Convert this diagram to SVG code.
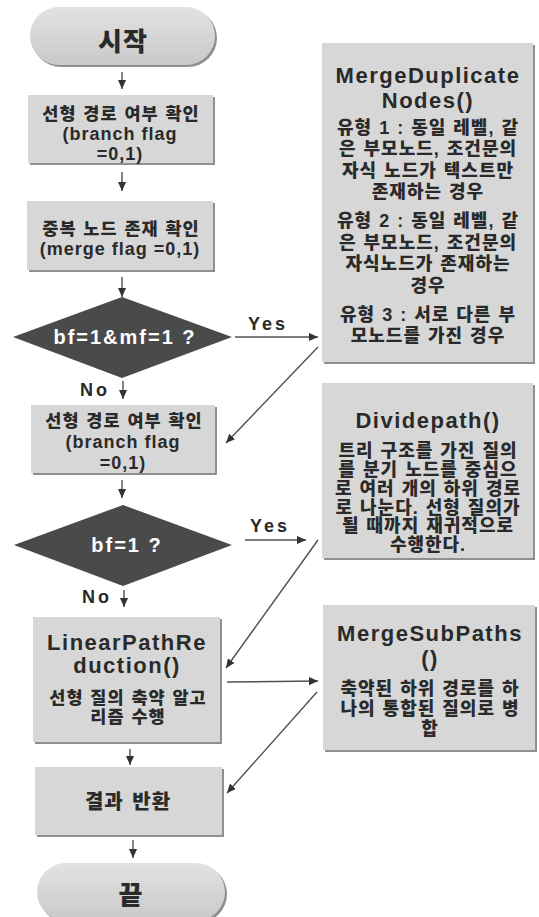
<svg xmlns="http://www.w3.org/2000/svg" width="539" height="917" viewBox="0 0 539 917">
  <defs>
    <style>
      .box { fill: #d7d7d7; }
      .shadow { fill: #8f8f8f; }
      .term { fill: url(#termFill); }
      .dia { fill: #4a4a4a; }
      .edge { stroke: #505050; stroke-width: 1.4; fill: none; marker-end: url(#ah); }
      .t { font-family: "Liberation Sans", "Noto Sans CJK KR", sans-serif; font-weight: bold; fill: #2a2a2a; text-anchor: middle; }
      .ko { font-size: 17.5px; font-weight: 900; letter-spacing: 1px; word-spacing: 1px; }
      .kor { font-size: 18px; font-weight: 900; letter-spacing: 1px; word-spacing: 1px; }
      .en { font-size: 18px; letter-spacing: 1px; }
      .title { font-size: 22px; letter-spacing: 1.5px; }
      .big { font-size: 26px; font-weight: 900; letter-spacing: 1px; }
      .res { font-size: 20px; font-weight: 900; letter-spacing: 1px; word-spacing: 2px; }
      .lbl { font-size: 18px; letter-spacing: 3px; text-anchor: start; }
      .dt { font-size: 20px; letter-spacing: 2px; fill: #ffffff; }
    </style>
    <linearGradient id="termFill" x1="0" y1="0" x2="0" y2="1">
      <stop offset="0" stop-color="#e2e2e2"/>
      <stop offset="1" stop-color="#c9c9c9"/>
    </linearGradient>
    <marker id="ah" viewBox="0 0 10 10" refX="10" refY="5" markerWidth="9" markerHeight="9" markerUnits="userSpaceOnUse" orient="auto">
      <path d="M0,0.5 L10,5 L0,9.5 z" fill="#333333"/>
    </marker>
  </defs>

  <!-- flow connectors and branch labels -->
  <g id="connectors">
    <line class="edge" x1="122" y1="72" x2="122" y2="89"/>
    <line class="edge" x1="122" y1="172" x2="122" y2="191"/>
    <line class="edge" x1="122" y1="277" x2="122" y2="297"/>
    <line class="edge" x1="123" y1="381" x2="123" y2="399"/>
    <line class="edge" x1="122" y1="480" x2="122" y2="498"/>
    <line class="edge" x1="124" y1="590" x2="124" y2="607"/>
    <line class="edge" x1="130" y1="749" x2="130" y2="765"/>
    <line class="edge" x1="133" y1="840" x2="133" y2="858"/>

    <line class="edge" x1="235" y1="337" x2="318" y2="337"/>
    <line class="edge" x1="245" y1="540" x2="306" y2="540"/>
    <line class="edge" x1="318" y1="347" x2="226" y2="443"/>
    <line class="edge" x1="318" y1="540" x2="226" y2="668"/>
    <line class="edge" x1="227" y1="682" x2="318" y2="681"/>
    <line class="edge" x1="317" y1="692" x2="227" y2="793"/>

    <text class="t lbl" x="248" y="330">Yes</text>
    <text class="t lbl" x="250" y="532">Yes</text>
    <text class="t lbl" x="80" y="396">No</text>
    <text class="t lbl" x="82" y="603">No</text>
  </g>

  <g id="start">
    <rect class="shadow" x="32" y="9" width="185" height="58" rx="29"/>
    <rect class="term" x="30" y="7" width="185" height="58" rx="29"/>
    <text class="t big" x="123" y="51">시작</text>
  </g>

  <g id="check-branch">
    <rect class="shadow" x="30" y="97" width="185" height="68"/>
    <rect class="box" x="28" y="95" width="185" height="68"/>
    <text class="t ko" x="121" y="120">선형 경로 여부 확인</text>
    <text class="t en" x="120" y="140">(branch flag</text>
    <text class="t en" x="120" y="160">=0,1)</text>
  </g>

  <g id="check-merge">
    <rect class="shadow" x="29" y="203" width="186" height="69"/>
    <rect class="box" x="27" y="201" width="186" height="69"/>
    <text class="t ko" x="121" y="235">중복 노드 존재 확인</text>
    <text class="t en" x="120" y="255">(merge flag =0,1)</text>
  </g>

  <g id="decision-both">
    <polygon class="dia" points="122,297 232,337 122,378 13,337"/>
    <text class="t dt" x="125" y="344">bf=1&amp;mf=1 ?</text>
  </g>

  <g id="check-branch-2">
    <rect class="shadow" x="33" y="407" width="184" height="68"/>
    <rect class="box" x="31" y="405" width="184" height="68"/>
    <text class="t ko" x="124" y="427">선형 경로 여부 확인</text>
    <text class="t en" x="123" y="448">(branch flag</text>
    <text class="t en" x="123" y="469">=0,1)</text>
  </g>

  <g id="decision-branch">
    <polygon class="dia" points="123,505 232,545 123,586 14,545"/>
    <text class="t dt" x="127" y="552">bf=1 ?</text>
  </g>

  <g id="linear-reduction">
    <rect class="shadow" x="35" y="619" width="187" height="125"/>
    <rect class="box" x="33" y="617" width="187" height="125"/>
    <text class="t title" x="127" y="650">LinearPathRe</text>
    <text class="t title" x="127" y="673">duction()</text>
    <text class="t ko" x="128" y="704">선형 질의 축약 알고</text>
    <text class="t ko" x="128" y="723">리즘 수행</text>
  </g>

  <g id="return-result">
    <rect class="shadow" x="37" y="769" width="187" height="68"/>
    <rect class="box" x="35" y="767" width="187" height="68"/>
    <text class="t res" x="128" y="809">결과 반환</text>
  </g>

  <g id="end">
    <rect class="shadow" x="39" y="865" width="188" height="58" rx="29"/>
    <rect class="term" x="37" y="863" width="188" height="58" rx="29"/>
    <text class="t big" x="131" y="905">끝</text>
  </g>

  <g id="merge-duplicate-nodes">
    <rect class="shadow" x="324" y="45" width="211" height="319"/>
    <rect class="box" x="322" y="43" width="211" height="319"/>
    <text class="t title" x="428" y="83">MergeDuplicate</text>
    <text class="t title" x="428" y="108">Nodes()</text>
    <text class="t kor" x="428" y="133.5">유형 1 : 동일 레벨, 같</text>
    <text class="t kor" x="428" y="155">은 부모노드, 조건문의</text>
    <text class="t kor" x="428" y="176.5">자식 노드가 텍스트만</text>
    <text class="t kor" x="428" y="198">존재하는 경우</text>
    <text class="t kor" x="428" y="227">유형 2 : 동일 레벨, 같</text>
    <text class="t kor" x="428" y="248.5">은 부모노드, 조건문의</text>
    <text class="t kor" x="428" y="270">자식노드가 존재하는</text>
    <text class="t kor" x="428" y="291.5">경우</text>
    <text class="t kor" x="428" y="321">유형 3 : 서로 다른 부</text>
    <text class="t kor" x="428" y="342">모노드를 가진 경우</text>
  </g>

  <g id="divide-path">
    <rect class="shadow" x="324" y="385" width="211" height="175"/>
    <rect class="box" x="322" y="383" width="211" height="175"/>
    <text class="t title" x="428" y="428">Dividepath()</text>
    <text class="t kor" x="428" y="456.5">트리 구조를 가진 질의</text>
    <text class="t kor" x="428" y="475.5">를 분기 노드를 중심으</text>
    <text class="t kor" x="428" y="494.5">로 여러 개의 하위 경로</text>
    <text class="t kor" x="428" y="513.5">로 나눈다. 선형 질의가</text>
    <text class="t kor" x="428" y="532">될 때까지 재귀적으로</text>
    <text class="t kor" x="428" y="551">수행한다.</text>
  </g>

  <g id="merge-sub-paths">
    <rect class="shadow" x="325" y="607" width="212" height="145"/>
    <rect class="box" x="323" y="605" width="212" height="145"/>
    <text class="t title" x="430" y="641">MergeSubPaths</text>
    <text class="t title" x="430" y="666">()</text>
    <text class="t kor" x="430" y="694.5">축약된 하위 경로를 하</text>
    <text class="t kor" x="430" y="714.5">나의 통합된 질의로 병</text>
    <text class="t kor" x="430" y="734.5">합</text>
  </g>
</svg>
